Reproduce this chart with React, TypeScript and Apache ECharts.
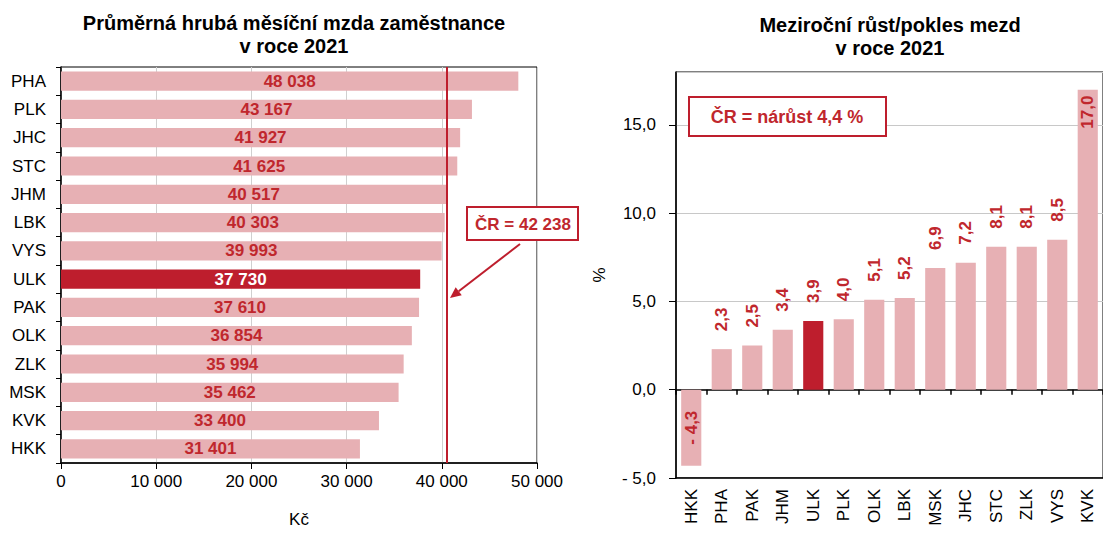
import React, { useEffect, useRef } from "react";
import * as echarts from "echarts";

const leftTitle = "Průměrná hrubá měsíční mzda zaměstnance\nv roce 2021";
const rightTitle = "Meziroční růst/pokles mezd\nv roce 2021";

const wageRegions = ["PHA", "PLK", "JHC", "STC", "JHM", "LBK", "VYS", "ULK", "PAK", "OLK", "ZLK", "MSK", "KVK", "HKK"];
const wageValues = [48038, 43167, 41927, 41625, 40517, 40303, 39993, 37730, 37610, 36854, 35994, 35462, 33400, 31401];
const wageTicks = [0, 10000, 20000, 30000, 40000, 50000];
const crLineValue = 40500;
const crWageLabel = "ČR = 42 238";

const growthRegions = ["HKK", "PHA", "PAK", "JHM", "ULK", "PLK", "OLK", "LBK", "MSK", "JHC", "STC", "ZLK", "VYS", "KVK"];
const growthValues = [-4.3, 2.3, 2.5, 3.4, 3.9, 4.0, 5.1, 5.2, 6.9, 7.2, 8.1, 8.1, 8.5, 17.0];
const growthTicks = [-5, 0, 5, 10, 15];
const crGrowthLabel = "ČR = nárůst 4,4 %";

const highlight = "ULK";

const PINK = "#E7B0B4";
const DARK = "#BE1E2D";
const LABEL_RED = "#C0272D";
const FONT = "'Liberation Sans', Arial, sans-serif";
const FS = 17;

const fmtThousands = (v: number) => String(v).replace(/\B(?=(\d{3})+(?!\d))/g, " ");
const fmtDec = (v: number) => (v < 0 ? "- " + Math.abs(v).toFixed(1) : v.toFixed(1)).replace(".", ",");

export default function App() {
  const ref = useRef<HTMLDivElement>(null);

  useEffect(() => {
    document.body.style.margin = "0";
    if (!ref.current) return;
    const chart = echarts.init(ref.current, undefined, { renderer: "svg" });

    const leftData = wageValues.map((v, i) => {
      const hl = wageRegions[i] === highlight;
      return {
        value: v,
        itemStyle: { color: hl ? DARK : PINK },
        label: { color: hl ? "#ffffff" : LABEL_RED },
      };
    });

    const rightData = growthValues.map((v, i) => {
      const hl = growthRegions[i] === highlight;
      const item: any = { value: v, itemStyle: { color: hl ? DARK : PINK } };
      if (v < 0) {
        item.label = { position: "inside", align: "center", verticalAlign: "middle" };
      } else if (v > 15) {
        item.label = { position: "insideTop", align: "right", verticalAlign: "middle", distance: 6 };
      }
      return item;
    });

    // arrow geometry
    const ax0 = 520, ay0 = 244, ax1 = 450, ay1 = 298;
    const dx = ax1 - ax0, dy = ay1 - ay0;
    const len = Math.sqrt(dx * dx + dy * dy);
    const ux = dx / len, uy = dy / len;
    const headL = 11, headW = 5;
    const bx = ax1 - ux * headL, by = ay1 - uy * headL;
    const px = -uy * headW, py = ux * headW;

    const option: any = {
      animation: false,
      textStyle: { fontFamily: FONT },
      title: [
        {
          text: leftTitle,
          left: 289,
          top: 6,
          textAlign: "center",
          textStyle: { fontFamily: FONT, fontSize: 20, fontWeight: "bold", color: "#000", lineHeight: 23 },
        },
        {
          text: rightTitle,
          left: 885,
          top: 8,
          textAlign: "center",
          textStyle: { fontFamily: FONT, fontSize: 20, fontWeight: "bold", color: "#000", lineHeight: 23 },
        },
      ],
      grid: [
        { left: 61, top: 67, width: 476, height: 407, show: true, borderColor: "#000", borderWidth: 1, backgroundColor: "transparent", containLabel: false },
        { left: 676, top: 72, width: 434, height: 406, show: true, borderColor: "#000", borderWidth: 1, backgroundColor: "transparent", containLabel: false },
      ],
      xAxis: [
        {
          type: "value",
          gridIndex: 0,
          min: wageTicks[0],
          max: wageTicks[wageTicks.length - 1],
          interval: wageTicks[1] - wageTicks[0],
          axisLine: { show: true, lineStyle: { color: "#000", width: 1.5 } },
          axisTick: { show: true, length: 6, lineStyle: { color: "#000" } },
          axisLabel: { formatter: (v: number) => fmtThousands(v), fontSize: FS, color: "#000", margin: 10, fontFamily: FONT },
          splitLine: { show: true, lineStyle: { color: "#D0D0D0", width: 1 } },
          name: "Kč",
          nameLocation: "middle",
          nameGap: 48,
          nameTextStyle: { fontSize: FS, color: "#000", fontFamily: FONT },
        },
        {
          type: "category",
          gridIndex: 1,
          position: "bottom",
          data: growthRegions,
          axisLine: { show: true, onZero: false, lineStyle: { color: "#000", width: 1.5 } },
          axisTick: { show: false },
          axisLabel: { rotate: 90, fontSize: FS, color: "#000", margin: 11, fontFamily: FONT, interval: 0 },
        },
        {
          type: "category",
          gridIndex: 1,
          position: "top",
          data: growthRegions,
          axisLine: { show: true, onZero: true, lineStyle: { color: "#000", width: 1.5 } },
          axisTick: { show: true, inside: true, length: 5, interval: 0, lineStyle: { color: "#000", width: 1.5 } },
          axisLabel: { show: false },
          splitLine: { show: false },
        },
      ],
      yAxis: [
        {
          type: "category",
          gridIndex: 0,
          inverse: true,
          data: wageRegions,
          axisLine: { show: true, lineStyle: { color: "#000", width: 1.5 } },
          axisTick: { show: true, length: 5, interval: 0, lineStyle: { color: "#000" } },
          axisLabel: { fontSize: FS, color: "#000", margin: 15, fontFamily: FONT, interval: 0 },
        },
        {
          type: "value",
          gridIndex: 1,
          min: growthTicks[0],
          max: 18,
          interval: growthTicks[1] - growthTicks[0],
          axisLine: { show: true, lineStyle: { color: "#000", width: 1.5 } },
          axisTick: { show: true, length: 7, lineStyle: { color: "#000" } },
          axisLabel: {
            formatter: (v: number) => (growthTicks.includes(v) ? fmtDec(v) : ""),
            fontSize: FS,
            color: "#000",
            margin: 20,
            fontFamily: FONT,
            showMaxLabel: false,
          },
          splitLine: { show: true, lineStyle: { color: "#C8C8C8", width: 1 } },
          name: "%",
          nameLocation: "middle",
          nameRotate: 90,
          nameGap: 68,
          nameTextStyle: { fontSize: FS, color: "#000", fontFamily: FONT },
        },
      ],
      series: [
        {
          type: "bar",
          xAxisIndex: 0,
          yAxisIndex: 0,
          data: leftData,
          barWidth: "68%",
          label: {
            show: true,
            position: "inside",
            formatter: (p: any) => fmtThousands(p.value),
            fontSize: FS,
            fontWeight: "bold",
            fontFamily: FONT,
          },
          markLine: {
            silent: true,
            symbol: "none",
            label: { show: false },
            lineStyle: { color: DARK, width: 2, type: "solid" },
            data: [{ xAxis: crLineValue }],
          },
        },
        {
          type: "bar",
          xAxisIndex: 1,
          yAxisIndex: 1,
          data: rightData,
          barWidth: "66%",
          label: {
            show: true,
            position: "top",
            rotate: 90,
            align: "left",
            verticalAlign: "middle",
            distance: 18,
            formatter: (p: any) => fmtDec(p.value),
            fontSize: FS,
            fontWeight: "bold",
            color: LABEL_RED,
            fontFamily: FONT,
          },
        },
      ],
      graphic: [
        {
          type: "rect",
          shape: { x: 467, y: 207, width: 111, height: 33 },
          style: { fill: "#fff", stroke: DARK, lineWidth: 2 },
          z: 100,
        },
        {
          type: "text",
          x: 523,
          y: 224,
          style: { text: crWageLabel, fill: LABEL_RED, font: "bold 17px " + FONT, textAlign: "center", textVerticalAlign: "middle" },
          z: 101,
        },
        {
          type: "line",
          shape: { x1: ax0, y1: ay0, x2: bx, y2: by },
          style: { stroke: DARK, lineWidth: 2 },
          z: 100,
        },
        {
          type: "polygon",
          shape: { points: [[ax1, ay1], [bx + px, by + py], [bx - px, by - py]] },
          style: { fill: DARK },
          z: 100,
        },
        {
          type: "rect",
          shape: { x: 689, y: 97, width: 197, height: 39 },
          style: { fill: "#fff", stroke: DARK, lineWidth: 2 },
          z: 100,
        },
        {
          type: "text",
          x: 787,
          y: 116.5,
          style: { text: crGrowthLabel, fill: LABEL_RED, font: "bold 18px " + FONT, textAlign: "center", textVerticalAlign: "middle" },
          z: 101,
        },
      ],
    };

    chart.setOption(option);
    return () => chart.dispose();
  }, []);

  return <div ref={ref} style={{ width: 1103, height: 533 }} />;
}
